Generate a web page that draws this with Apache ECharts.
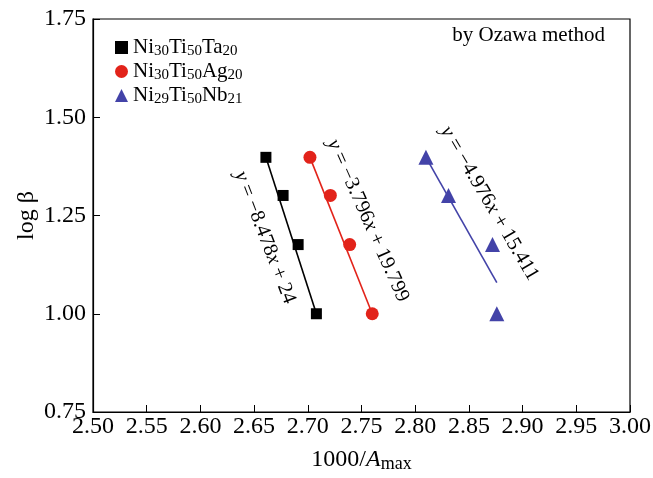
<!DOCTYPE html>
<html>
<head>
<meta charset="utf-8">
<script src="https://cdn.jsdelivr.net/npm/echarts@6/dist/echarts.min.js"></script>
<style>
  html, body { margin: 0; padding: 0; background: #fff; }
  #main { width: 653px; height: 478px; }
</style>
</head>
<body>
<div id="main"></div>
<script>
// measured points: x = 1000/Amax, y = log beta
const logBeta = [1.398, 1.301, 1.176, 1.0];
const taX = [2.661, 2.677, 2.691, 2.708];
const agX = [2.702, 2.721, 2.739, 2.760];
const nbX = [2.810, 2.831, 2.872, 2.876];

// fitted line ends [x, y]
const taFit = [[2.661, 1.398], [2.708, 1.0]];
const agFit = [[2.702, 1.398], [2.760, 1.0]];
const nbFit = [[2.810, 1.398], [2.876, 1.079]];

const names = ["Ni30Ti50Ta20", "Ni30Ti50Ag20", "Ni29Ti50Nb21"];
const legendRich = {
  Ni30Ti50Ta20: "{n|Ni}{s|30}{n|Ti}{s|50}{n|Ta}{s|20}",
  Ni30Ti50Ag20: "{n|Ni}{s|30}{n|Ti}{s|50}{n|Ag}{s|20}",
  Ni29Ti50Nb21: "{n|Ni}{s|29}{n|Ti}{s|50}{n|Nb}{s|21}",
};

// equation labels: [text, x, y, angle]
const equations = [
  ["{i|y} = −8.478{i|x} + 24", 2.660, 1.194, -69],
  ["{i|y} = −3.796{i|x} + 19.799", 2.756, 1.237, -66],
  ["{i|y} = −4.976{i|x} + 15.411", 2.869, 1.281, -59.5],
];

const xTicks = [2.5, 3.0, 0.05];
const yTicks = [0.75, 1.75, 0.25];

const FONT = "Liberation Serif";
const RED = "#e2231a";
const BLUE = "#4343a8";

const chart = echarts.init(document.getElementById("main"));

function pts(xs) {
  return xs.map((x, i) => [x, logBeta[i]]);
}

const option = {
  animation: false,
  grid: {
    left: 93, right: 23, top: 19, bottom: 66,
    outerBoundsMode: "none",
    show: true, borderColor: "#000", borderWidth: 1.2,
  },
  xAxis: {
    type: "value",
    min: xTicks[0], max: xTicks[1], interval: xTicks[2],
    axisLine: { lineStyle: { color: "#000", width: 1.2 } },
    axisTick: { inside: true, length: 7, lineStyle: { color: "#000" } },
    splitLine: { show: false },
    axisLabel: {
      color: "#000", fontFamily: FONT, fontSize: 24, margin: 3,
      formatter: (v) => v.toFixed(2),
    },
    name: "{n|1000/}{i|A}{s|max}",
    nameLocation: "middle",
    nameGap: 34,
    nameTextStyle: {
      rich: {
        n: { fontFamily: FONT, fontSize: 24, color: "#000" },
        i: { fontFamily: FONT, fontSize: 24, fontStyle: "italic", color: "#000" },
        s: { fontFamily: FONT, fontSize: 18, color: "#000", padding: [9, 0, 0, 0] },
      },
    },
  },
  yAxis: {
    type: "value",
    min: yTicks[0], max: yTicks[1], interval: yTicks[2],
    axisLine: { lineStyle: { color: "#000", width: 1.2 } },
    axisTick: { inside: true, length: 7, lineStyle: { color: "#000" } },
    splitLine: { show: false },
    axisLabel: {
      color: "#000", fontFamily: FONT, fontSize: 24, margin: 7,
      formatter: (v) => v.toFixed(2),
    },
    name: "log β",
    nameLocation: "middle",
    nameGap: 54,
    nameMoveOverlap: false,
    nameTextStyle: { fontFamily: FONT, fontSize: 24, color: "#000" },
  },
  legend: {
    data: names,
    orient: "vertical",
    left: 110, top: 32,
    itemGap: 2,
    itemWidth: 13, itemHeight: 13,
    formatter: (name) => legendRich[name],
    textStyle: {
      rich: {
        n: { fontFamily: FONT, fontSize: 21, color: "#000", lineHeight: 24 },
        s: { fontFamily: FONT, fontSize: 15, color: "#000", padding: [8, 0, 0, 0] },
      },
    },
  },
  graphic: [
    {
      type: "text", right: 48, top: 25,
      style: { text: "by Ozawa method", font: "21px " + FONT, fill: "#000" },
    },
  ],
  series: [
    {
      name: names[0], type: "scatter", symbol: "rect", symbolSize: 11,
      itemStyle: { color: "#000", opacity: 1 }, data: pts(taX), z: 3,
    },
    {
      name: names[1], type: "scatter", symbol: "circle", symbolSize: 13,
      itemStyle: { color: RED, opacity: 1 }, data: pts(agX), z: 3,
    },
    {
      name: names[2], type: "scatter", symbol: "triangle", symbolSize: 15,
      itemStyle: { color: BLUE, opacity: 1 }, data: pts(nbX), z: 3,
    },
    { type: "line", data: taFit, symbol: "none", lineStyle: { color: "#000", width: 1.6 } },
    { type: "line", data: agFit, symbol: "none", lineStyle: { color: RED, width: 1.6 } },
    { type: "line", data: nbFit, symbol: "none", lineStyle: { color: BLUE, width: 1.6 } },
  ],
};

chart.setOption(option);

// rotated equation labels anchored in data coordinates
const eqGraphics = equations.map((e) => {
  const p = chart.convertToPixel({ gridIndex: 0 }, [e[1], e[2]]);
  return {
    type: "text",
    x: p[0], y: p[1],
    rotation: (e[3] * Math.PI) / 180,
    style: {
      text: e[0],
      align: "center",
      verticalAlign: "middle",
      font: "20.5px " + FONT,
      fill: "#000",
      rich: {
        i: { fontFamily: FONT, fontSize: 20.5, fontStyle: "italic", fill: "#000" },
      },
    },
  };
});
chart.setOption({ graphic: option.graphic.concat(eqGraphics) });
</script>
</body>
</html>
